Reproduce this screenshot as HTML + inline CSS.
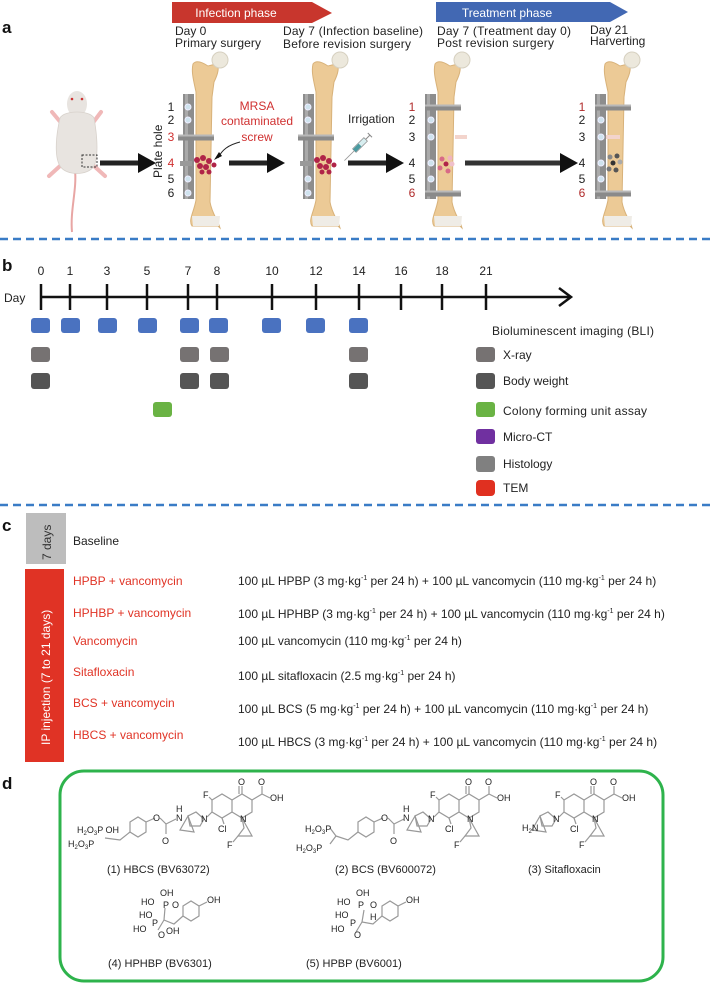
<!DOCTYPE html>
<html><head><meta charset="utf-8">
<style>
html,body{margin:0;padding:0;background:#fff;}
svg{display:block;}
text{font-family:"Liberation Sans",Arial,sans-serif;}
</style></head>
<body>
<svg width="714" height="984" viewBox="0 0 714 984" xmlns="http://www.w3.org/2000/svg">
<defs>
  <g id="bone">
    <path d="M-13,12 C-10,8 -4,10 2,14 L10,12 C14,14 12,22 8,30 L6,45 L4,150 C6,162 12,168 14,176 L12,174 L-14,174 C-18,168 -12,160 -10,148 L-10,40 C-12,30 -15,20 -13,12 Z" fill="#ecca96" stroke="#d8b27a" stroke-width="1"/>
    <circle cx="14" cy="8" r="8" fill="#ece8dc" stroke="#d6d0c0" stroke-width="1"/>
    <path d="M-14,164 L14,164 L13,174 L-13,174 Z" fill="#efece6"/>
  </g>
  <g id="plate">
    <rect x="-23" y="42" width="11" height="105" fill="#8d8d8d"/>
    <rect x="-21" y="42" width="3" height="105" fill="#aaa"/>
  </g>
  <g id="hole"><circle r="3" fill="#cfe3ee" stroke="#eef" stroke-width="1"/></g>
  <g id="screwL"><rect x="-28" y="-2.5" width="36" height="6" fill="#8a8a8a"/><rect x="-28" y="-2.5" width="36" height="2" fill="#b8b8b8"/></g>
  <g id="arrow">
    <rect x="0" y="-2.5" width="40" height="5" fill="#222"/>
    <path d="M38,-10 L56,0 L38,10 Z" fill="#111"/>
  </g>
  <g id="quin" fill="none" stroke="#999" stroke-width="1.2">
    <path d="M212,800 L222,794 L232,800 L232,812 L222,818 L212,812 Z"/>
    <path d="M232,800 L242,794 L252,800 L252,812 L242,818 L232,812"/>
    <path d="M242,794 L242,786 M239,794 L239,786"/>
    <path d="M252,800 L262,794 L262,786 M262,794 L270,798"/>
    <path d="M212,800 L209,797 M212,812 L207,817"/>
    <path d="M242,818 L244,828 L238,836 L252,836 Z"/>
    <path d="M222,818 L224,824"/>
    <path d="M238,836 L233,842"/>
    <path d="M204,819 L196,812 L188,816 L190,826 L200,826 Z"/>
    <path d="M188,816 L180,830 L194,832 Z"/>
  </g>
  <g id="quintext" font-size="9" fill="#222">
    <text x="203" y="798">F</text>
    <text x="238" y="785">O</text>
    <text x="258" y="785">O</text>
    <text x="270" y="801">OH</text>
    <text x="201" y="822">N</text>
    <text x="240" y="822">N</text>
    <text x="218" y="832">Cl</text>
    <text x="227" y="848">F</text>
  </g>
</defs>

<!-- Panel a -->
<text x="2" y="33" font-size="17" font-weight="bold" fill="#111">a</text>
<path d="M172,2 L312,2 L332,13 L312,23 L172,23 Z" fill="#c8362d"/>
<text x="236" y="17" font-size="12" fill="#fff" text-anchor="middle">Infection phase</text>
<path d="M436,2 L610,2 L628,12 L610,22 L436,22 Z" fill="#4268b3"/>
<text x="507" y="17" font-size="12" fill="#fff" text-anchor="middle">Treatment phase</text>
<g font-size="12" fill="#222">
<text x="175" y="35">Day 0</text><text x="175" y="47" textLength="86">Primary surgery</text>
<text x="283" y="35" textLength="140">Day 7 (Infection baseline)</text><text x="283" y="48" textLength="128">Before revision surgery</text>
<text x="437" y="35" textLength="134">Day 7 (Treatment day 0)</text><text x="437" y="47" textLength="117">Post revision surgery</text>
<text x="590" y="34">Day 21</text><text x="590" y="45">Harverting</text>
</g>

<!-- mouse -->
<path d="M75,170 C77,190 70,210 72,232" stroke="#e8a6a4" stroke-width="2" fill="none"/>
<path d="M62,124 L52,112 M92,124 L101,112 M60,166 L49,176 M94,166 L105,176" stroke="#f0b8b8" stroke-width="4" stroke-linecap="round"/>
<ellipse cx="77" cy="104" rx="10" ry="13" fill="#e8e4e0"/>
<path d="M60,118 C55,140 55,158 60,166 C66,176 88,176 94,166 C98,158 98,140 94,118 C90,110 64,110 60,118 Z" fill="#e8e4e0" stroke="#d8d2cc" stroke-width="0.8"/>
<circle cx="72" cy="99" r="1.3" fill="#c33"/><circle cx="82" cy="99" r="1.3" fill="#c33"/>
<rect x="82" y="155" width="15" height="12" fill="none" stroke="#333" stroke-width="1" stroke-dasharray="2,1.5"/>

<!-- arrows -->
<use href="#arrow" x="100" y="163"/>
<use href="#arrow" x="229" y="163"/>
<use href="#arrow" x="348" y="163"/>
<rect x="465" y="160.5" width="100" height="5" fill="#333"/><path d="M560,153 L578,163 L560,173 Z" fill="#111"/>

<!-- bones -->
<g transform="translate(206,52)"><use href="#plate"/><use href="#bone"/></g>
<g transform="translate(326,52)"><use href="#plate"/><use href="#bone"/></g>
<g transform="translate(448,52)"><use href="#plate"/><use href="#bone"/></g>
<g transform="translate(618,52)"><use href="#plate"/><use href="#bone"/></g>
<g>
<use href="#hole" x="188" y="107"/><use href="#hole" x="188" y="120"/><use href="#hole" x="188" y="179"/><use href="#hole" x="188" y="193"/>
<use href="#hole" x="308" y="107"/><use href="#hole" x="308" y="120"/><use href="#hole" x="308" y="179"/><use href="#hole" x="308" y="193"/>
<use href="#hole" x="431" y="120"/><use href="#hole" x="431" y="137"/><use href="#hole" x="431" y="163"/><use href="#hole" x="431" y="179"/>
<use href="#hole" x="601" y="120"/><use href="#hole" x="601" y="137"/><use href="#hole" x="601" y="163"/><use href="#hole" x="601" y="179"/>
</g>
<use href="#screwL" x="206" y="137"/><rect x="180" y="161" width="12" height="5" fill="#999"/>
<use href="#screwL" x="326" y="137"/><rect x="300" y="161" width="12" height="5" fill="#999"/>
<use href="#screwL" x="453" y="107"/><use href="#screwL" x="453" y="193"/>
<rect x="455" y="135" width="12" height="4" fill="#f3d4cc"/>
<use href="#screwL" x="623" y="107"/><use href="#screwL" x="623" y="193"/>
<rect x="606" y="135" width="14" height="4" fill="#f3d4cc"/>
<g fill="#b02448">
<circle cx="197" cy="160" r="3"/><circle cx="203" cy="158" r="3"/><circle cx="209" cy="161" r="3"/><circle cx="200" cy="166" r="3"/><circle cx="206" cy="167" r="3"/><circle cx="214" cy="165" r="2.5"/><circle cx="202" cy="172" r="2.5"/><circle cx="209" cy="172" r="2.5"/>
<circle cx="317" cy="160" r="3"/><circle cx="323" cy="158" r="3"/><circle cx="329" cy="161" r="3"/><circle cx="320" cy="166" r="3"/><circle cx="326" cy="167" r="3"/><circle cx="334" cy="165" r="2.5"/><circle cx="322" cy="172" r="2.5"/><circle cx="329" cy="172" r="2.5"/>
</g>
<g fill="#d86a86"><circle cx="442" cy="159" r="2.5"/><circle cx="450" cy="158" r="2.5" fill="#f0b4c0"/><circle cx="446" cy="164" r="2.5" fill="#b02448"/><circle cx="440" cy="168" r="2.5"/><circle cx="448" cy="171" r="2.5"/><circle cx="452" cy="164" r="2.5" fill="#f0c0cc"/></g>
<g fill="#555"><circle cx="610" cy="157" r="2.5" fill="#888"/><circle cx="617" cy="156" r="2.5"/><circle cx="613" cy="163" r="2.5" fill="#333"/><circle cx="620" cy="162" r="2.5" fill="#aaa"/><circle cx="609" cy="169" r="2.5" fill="#777"/><circle cx="616" cy="170" r="2.5"/></g>

<g font-size="12" fill="#222" text-anchor="middle">
<text x="171" y="111">1</text><text x="171" y="124">2</text><text x="171" y="141" fill="#d03030">3</text><text x="171" y="167" fill="#d03030">4</text><text x="171" y="183">5</text><text x="171" y="197">6</text>
<text x="412" y="111" fill="#b02a2a">1</text><text x="412" y="124">2</text><text x="412" y="141">3</text><text x="412" y="167">4</text><text x="412" y="183">5</text><text x="412" y="197" fill="#b02a2a">6</text>
<text x="582" y="111" fill="#b02a2a">1</text><text x="582" y="124">2</text><text x="582" y="141">3</text><text x="582" y="167">4</text><text x="582" y="183">5</text><text x="582" y="197" fill="#b02a2a">6</text>
</g>
<text transform="translate(162,178) rotate(-90)" font-size="12" fill="#222">Plate hole</text>
<g font-size="12" fill="#d03030" text-anchor="middle">
<text x="257" y="110">MRSA</text><text x="257" y="125">contaminated</text><text x="257" y="141">screw</text>
</g>
<path d="M240,142 C228,145 222,150 218,158" stroke="#222" fill="none" stroke-width="1"/>
<path d="M214,160 L222,156 L219,152 Z" fill="#111"/>
<text x="348" y="123" font-size="12" fill="#222">Irrigation</text>
<g transform="translate(360,145) rotate(-45)">
<rect x="-8" y="-2.5" width="16" height="5" fill="#d8eef0" stroke="#888" stroke-width="0.7"/>
<rect x="-8" y="-2" width="8" height="4" fill="#4a9aa0"/>
<line x1="8" y1="0" x2="14" y2="0" stroke="#888" stroke-width="1"/>
<line x1="14" y1="-3" x2="14" y2="3" stroke="#888" stroke-width="1"/>
<line x1="-8" y1="0" x2="-22" y2="0" stroke="#999" stroke-width="0.8"/>
</g>

<line x1="0" y1="239" x2="714" y2="239" stroke="#3a7cc6" stroke-width="2.5" stroke-dasharray="8,5"/>

<!-- Panel b -->
<text x="2" y="271" font-size="17" font-weight="bold" fill="#111">b</text>
<g font-size="12" fill="#222" text-anchor="middle">
<text x="41" y="275">0</text><text x="70" y="275">1</text><text x="107" y="275">3</text><text x="147" y="275">5</text><text x="188" y="275">7</text><text x="217" y="275">8</text><text x="272" y="275">10</text><text x="316" y="275">12</text><text x="359" y="275">14</text><text x="401" y="275">16</text><text x="442" y="275">18</text><text x="486" y="275">21</text>
</g>
<text x="4" y="302" font-size="12" fill="#222">Day</text>
<g stroke="#111" stroke-width="2.5">
<line x1="41" y1="297" x2="570" y2="297"/>
<line x1="41" y1="284" x2="41" y2="310"/><line x1="70" y1="284" x2="70" y2="310"/><line x1="107" y1="284" x2="107" y2="310"/><line x1="147" y1="284" x2="147" y2="310"/><line x1="188" y1="284" x2="188" y2="310"/><line x1="217" y1="284" x2="217" y2="310"/><line x1="272" y1="284" x2="272" y2="310"/><line x1="316" y1="284" x2="316" y2="310"/><line x1="359" y1="284" x2="359" y2="310"/><line x1="401" y1="284" x2="401" y2="310"/><line x1="442" y1="284" x2="442" y2="310"/><line x1="486" y1="284" x2="486" y2="310"/>
<polyline points="559,288 571,297 559,306" fill="none"/>
</g>
<g fill="#4a72c0">
<rect x="31" y="318" width="19" height="15" rx="3"/><rect x="61" y="318" width="19" height="15" rx="3"/><rect x="98" y="318" width="19" height="15" rx="3"/><rect x="138" y="318" width="19" height="15" rx="3"/><rect x="180" y="318" width="19" height="15" rx="3"/><rect x="209" y="318" width="19" height="15" rx="3"/><rect x="262" y="318" width="19" height="15" rx="3"/><rect x="306" y="318" width="19" height="15" rx="3"/><rect x="349" y="318" width="19" height="15" rx="3"/>
</g>
<g fill="#767272">
<rect x="31" y="347" width="19" height="15" rx="3"/><rect x="180" y="347" width="19" height="15" rx="3"/><rect x="210" y="347" width="19" height="15" rx="3"/><rect x="349" y="347" width="19" height="15" rx="3"/><rect x="476" y="347" width="19" height="15" rx="3"/>
</g>
<g fill="#555">
<rect x="31" y="373" width="19" height="16" rx="3"/><rect x="180" y="373" width="19" height="16" rx="3"/><rect x="210" y="373" width="19" height="16" rx="3"/><rect x="349" y="373" width="19" height="16" rx="3"/><rect x="476" y="373" width="19" height="16" rx="3"/>
</g>
<rect x="153" y="402" width="19" height="15" rx="3" fill="#6ab344"/>
<rect x="476" y="402" width="19" height="15" rx="3" fill="#6ab344"/>
<rect x="476" y="429" width="19" height="15" rx="3" fill="#7030a0"/>
<rect x="476" y="456" width="19" height="16" rx="3" fill="#808080"/>
<rect x="476" y="480" width="19" height="16" rx="4" fill="#e03020"/>
<g font-size="12" fill="#222">
<text x="492" y="335" textLength="162">Bioluminescent imaging (BLI)</text>
<text x="503" y="359">X-ray</text>
<text x="503" y="385">Body weight</text>
<text x="503" y="415" textLength="144">Colony forming unit assay</text>
<text x="503" y="441">Micro-CT</text>
<text x="503" y="468">Histology</text>
<text x="503" y="492">TEM</text>
</g>
<line x1="0" y1="505" x2="714" y2="505" stroke="#3a7cc6" stroke-width="2.5" stroke-dasharray="8,5"/>

<!-- Panel c -->
<text x="2" y="531" font-size="17" font-weight="bold" fill="#111">c</text>
<rect x="26" y="513" width="40" height="51" fill="#bdbdbd"/>
<text transform="translate(51,560) rotate(-90)" font-size="12" fill="#333">7 days</text>
<text x="73" y="545" font-size="12" fill="#222">Baseline</text>
<rect x="25" y="569" width="39" height="193" fill="#e03325"/>
<text transform="translate(50,745) rotate(-90)" font-size="12" fill="#fff">IP injection (7 to 21 days)</text>
<g font-size="12" fill="#e03325">
<text x="73" y="585">HPBP + vancomycin</text>
<text x="73" y="617">HPHBP + vancomycin</text>
<text x="73" y="645">Vancomycin</text>
<text x="73" y="676">Sitafloxacin</text>
<text x="73" y="707">BCS + vancomycin</text>
<text x="73" y="739">HBCS + vancomycin</text>
</g>
<g font-size="12" fill="#222">
<text x="238" y="585">100 µL HPBP (3 mg·kg<tspan font-size="7" dy="-5">-1</tspan><tspan dy="5"> per 24 h) + 100 µL vancomycin (110 mg·kg</tspan><tspan font-size="7" dy="-5">-1</tspan><tspan dy="5"> per 24 h)</tspan></text>
<text x="238" y="618">100 µL HPHBP (3 mg·kg<tspan font-size="7" dy="-5">-1</tspan><tspan dy="5"> per 24 h) + 100 µL vancomycin (110 mg·kg</tspan><tspan font-size="7" dy="-5">-1</tspan><tspan dy="5"> per 24 h)</tspan></text>
<text x="238" y="645">100 µL vancomycin (110 mg·kg<tspan font-size="7" dy="-5">-1</tspan><tspan dy="5"> per 24 h)</tspan></text>
<text x="238" y="680">100 µL sitafloxacin (2.5 mg·kg<tspan font-size="7" dy="-5">-1</tspan><tspan dy="5"> per 24 h)</tspan></text>
<text x="238" y="713">100 µL BCS (5 mg·kg<tspan font-size="7" dy="-5">-1</tspan><tspan dy="5"> per 24 h) + 100 µL vancomycin (110 mg·kg</tspan><tspan font-size="7" dy="-5">-1</tspan><tspan dy="5"> per 24 h)</tspan></text>
<text x="238" y="746">100 µL HBCS (3 mg·kg<tspan font-size="7" dy="-5">-1</tspan><tspan dy="5"> per 24 h) + 100 µL vancomycin (110 mg·kg</tspan><tspan font-size="7" dy="-5">-1</tspan><tspan dy="5"> per 24 h)</tspan></text>
</g>

<!-- Panel d -->
<text x="2" y="789" font-size="17" font-weight="bold" fill="#111">d</text>
<rect x="60" y="771" width="603" height="210" rx="24" fill="none" stroke="#2eb34c" stroke-width="3"/>

<use href="#quin"/><use href="#quintext"/>
<g fill="none" stroke="#999" stroke-width="1.2">
<path d="M130,822 L138,817 L146,822 L146,832 L138,837 L130,832 Z"/>
<path d="M146,822 L155,818 M160,818 L166,824 L166,834 M166,824 L176,819"/>
<path d="M130,832 L120,840 L105,838"/>
</g>
<g font-size="9" fill="#222">
<text x="153" y="821">O</text><text x="176" y="812">H</text><text x="176" y="821">N</text><text x="162" y="844">O</text>
<text x="77" y="833">H<tspan font-size="6" dy="2">2</tspan><tspan dy="-2">O</tspan><tspan font-size="6" dy="2">3</tspan><tspan dy="-2">P OH</tspan></text>
<text x="68" y="847">H<tspan font-size="6" dy="2">2</tspan><tspan dy="-2">O</tspan><tspan font-size="6" dy="2">3</tspan><tspan dy="-2">P</tspan></text>
</g>
<g transform="translate(227,0)"><use href="#quin"/><use href="#quintext"/></g>
<g fill="none" stroke="#999" stroke-width="1.2">
<path d="M358,822 L366,817 L374,822 L374,832 L366,837 L358,832 Z"/>
<path d="M374,822 L383,818 M388,818 L394,824 L394,834 M394,824 L404,819"/>
<path d="M358,832 L348,840 L336,836 L330,844 M336,836 L330,828"/>
</g>
<g font-size="9" fill="#222">
<text x="381" y="821">O</text><text x="403" y="812">H</text><text x="403" y="821">N</text><text x="390" y="844">O</text>
<text x="305" y="832">H<tspan font-size="6" dy="2">2</tspan><tspan dy="-2">O</tspan><tspan font-size="6" dy="2">3</tspan><tspan dy="-2">P</tspan></text>
<text x="296" y="851">H<tspan font-size="6" dy="2">2</tspan><tspan dy="-2">O</tspan><tspan font-size="6" dy="2">3</tspan><tspan dy="-2">P</tspan></text>
</g>
<g transform="translate(352,0)"><use href="#quin"/><use href="#quintext"/></g>
<text x="522" y="831" font-size="9" fill="#222">H<tspan font-size="6" dy="2">2</tspan><tspan dy="-2">N</tspan></text>

<g font-size="11" fill="#222">
<text x="107" y="873">(1)  HBCS (BV63072)</text>
<text x="335" y="873">(2)  BCS (BV600072)</text>
<text x="528" y="873">(3)   Sitafloxacin</text>
<text x="108" y="967">(4)   HPHBP (BV6301)</text>
<text x="306" y="967">(5)   HPBP (BV6001)</text>
</g>
<g fill="none" stroke="#999" stroke-width="1.2">
<path d="M183,906 L191,901 L199,906 L199,916 L191,921 L183,916 Z"/>
<path d="M199,906 L207,902"/>
<path d="M183,916 L174,924 L164,920 L165,908 M164,920 L158,930"/>
</g>
<g font-size="9" fill="#222">
<text x="160" y="896">OH</text><text x="141" y="905">HO</text><text x="163" y="908">P</text><text x="172" y="908">O</text>
<text x="139" y="918">HO</text><text x="152" y="926">P</text><text x="133" y="932">HO</text><text x="158" y="938">O</text><text x="166" y="934">OH</text>
<text x="207" y="903">OH</text>
</g>
<g fill="none" stroke="#999" stroke-width="1.2">
<path d="M382,906 L390,901 L398,906 L398,916 L390,921 L382,916 Z"/>
<path d="M398,906 L406,902"/>
<path d="M382,916 L373,924 L362,922 L364,910 M362,922 L356,932"/>
</g>
<g font-size="9" fill="#222">
<text x="356" y="896">OH</text><text x="337" y="905">HO</text><text x="358" y="908">P</text><text x="370" y="908">O</text>
<text x="335" y="918">HO</text><text x="370" y="920">H</text><text x="350" y="926">P</text><text x="331" y="932">HO</text><text x="354" y="938">O</text>
<text x="406" y="903">OH</text>
</g>
</svg>
</body></html>
